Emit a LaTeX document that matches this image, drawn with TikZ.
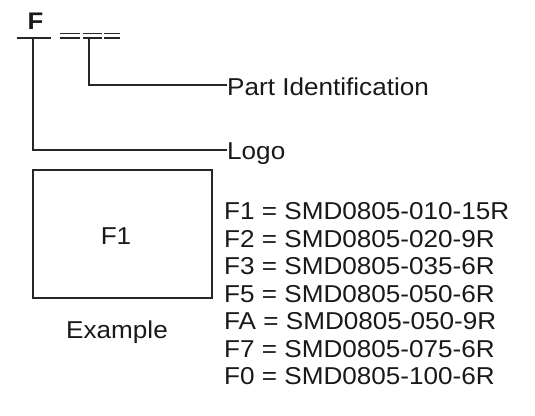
\documentclass[tikz,border=0pt]{standalone}
\usepackage{fontspec}
\setmainfont{Liberation Sans}[FakeStretch=1.07]
\usetikzlibrary{positioning}
\tikzset{txt/.style={inner sep=0pt,text=black!90,font=\fontsize{24.4}{27.5}\selectfont}}
\tikzset{leader/.style={line width=1.8pt,black!85}}

\begin{document}
\begin{tikzpicture}[x=1pt,y=-1pt]
\useasboundingbox (0,0) rectangle (535,415);

% marking: logo letter and blanks
\node[txt,font=\fontsize{24}{27.5}\selectfont\bfseries,anchor=base] (F) at (35.5,29.5) {F};
\coordinate (fleft) at (17,37.7);
\coordinate (fright) at (51,37.7);
\draw[leader] (fleft) -- (fright);
\foreach \a/\b in {60/80,83/102,104/120}{
  \draw[line width=1.6pt,black!85] (\a,33.4) -- (\b,33.4);
  \draw[line width=1.6pt,black!85] (\a,37.7) -- (\b,37.7);
}
\coordinate (fbar) at (33,37.7);
\coordinate (dashbar) at (89,37.7);

% leaders
\coordinate (parttip) at (227,85);
\coordinate (logotip) at (227,150);
\node[txt,anchor=base west] (partid) at ([yshift=-10.5pt]parttip) {Part Identification};
\node[txt,anchor=base west] (logo) at ([yshift=-9.5pt]logotip) {Logo};
\draw[leader] (dashbar) |- (parttip);
\draw[leader] (fbar) |- (logotip);

% example part
\node[draw,line width=2.2pt,black!85,minimum width=179,minimum height=128,inner sep=0pt] (box) at (122.5,234) {};
\node[txt] (f1) at (116,236) {F1};
\node[txt,anchor=base] (example) at (117,338) {Example};

% code list
\foreach \code/\part [count=\i from 0] in {F1/010-15R,F2/020-9R,F3/035-6R,F5/050-6R,FA/050-9R,F7/075-6R,F0/100-6R}
  \node[txt,anchor=base west] (code\i) at (224,219.5+27.5*\i) {\code{} = SMD0805-\part};

\end{tikzpicture}
\end{document}
